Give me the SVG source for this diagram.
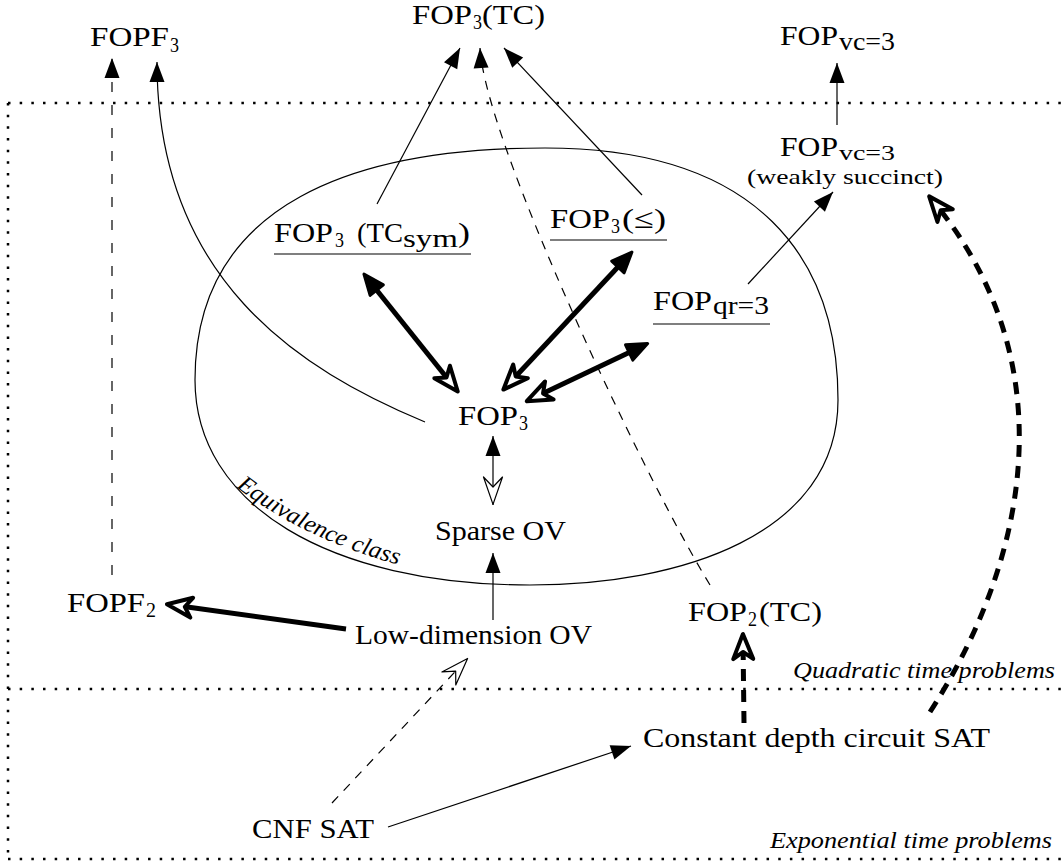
<svg xmlns="http://www.w3.org/2000/svg" width="1063" height="865" viewBox="0 0 1063 865">
<style>
.t{font-family:"Liberation Serif","Times New Roman",serif;font-size:28px;fill:#000}
.s{font-size:20px}
.ss{font-size:26px}
.it{font-family:"Liberation Serif","Times New Roman",serif;font-style:italic;font-size:24px;fill:#000}
.thin{stroke:#000;stroke-width:1.2;fill:none}
.thick{stroke:#000;stroke-width:5;fill:none}
.dash{stroke-dasharray:9 8}
.tdash{stroke-dasharray:12 9}
.dot{stroke:#000;stroke-width:2.5;stroke-dasharray:2.5 9.17;fill:none}
.ul{stroke:#000;stroke-width:1.2}
</style>
<defs>
<marker id="mf" markerUnits="userSpaceOnUse" orient="auto-start-reverse" refX="0" refY="0" markerWidth="40" markerHeight="40" overflow="visible">
<path d="M0,0 L-20,-7.5 L-20,7.5 Z" fill="#000"/>
</marker>
<marker id="mo" markerUnits="userSpaceOnUse" orient="auto-start-reverse" refX="0" refY="0" markerWidth="40" markerHeight="40" overflow="visible">
<path d="M-0.6,0 L-28,-9.5 L-18,0 L-28,9.5 Z" fill="#fff" stroke="#000" stroke-width="1.2" stroke-linejoin="round"/>
</marker>
<marker id="MF" markerUnits="userSpaceOnUse" orient="auto-start-reverse" refX="-8" refY="0" markerWidth="40" markerHeight="40" overflow="visible">
<path d="M-1.5,0 L-22,-8.5 L-22,8.5 Z" fill="#000" stroke="#000" stroke-width="3" stroke-linejoin="round"/>
</marker>
<marker id="MO" markerUnits="userSpaceOnUse" orient="auto-start-reverse" refX="-8" refY="0" markerWidth="40" markerHeight="40" overflow="visible">
<path d="M-2,0 L-27,-10 L-20,0 L-27,10 Z" fill="#fff" stroke="#000" stroke-width="4" stroke-linejoin="round"/>
</marker>
<path id="eqp" d="M236,487 Q305,540 403,566"/>
</defs>

<g id="frame">
<path class="dot" d="M8,103 H1070"/>
<path class="dot" d="M8,103 V859"/>
<path class="dot" d="M8,689 H1070"/>
<path class="dot" d="M8,859 H1070"/>
</g>

<g id="equivalence-class">
<path class="thin" d="M545,148 C760,148 838,260 838,400 C838,535 680,585 530,585 C330,585 195,505 195,380 C195,200 360,148 545,148 Z"/>
<text class="it"><textPath href="#eqp" textLength="181" lengthAdjust="spacingAndGlyphs">Equivalence class</textPath></text>
</g>

<g id="connectors">
<path class="thin" d="M112,575 L112,58" style="stroke-dasharray:10 13" marker-end="url(#mf)"/>
<path class="thin" d="M425,422 C300,370 157,280 157,62" marker-end="url(#mf)"/>
<path class="thin" d="M377,204 L460,48" marker-end="url(#mf)"/>
<path class="thin" d="M642,195 L504,48" marker-end="url(#mf)"/>
<path class="thin dash" d="M710,585 C640,470 485,140 480,48" marker-end="url(#mf)"/>
<path class="thin" d="M837,125 L837,63" marker-end="url(#mf)"/>
<path class="thin" d="M748,284 L833,192" marker-end="url(#mf)"/>
<path class="thick tdash" d="M930,712 C1038,544 1058.5,352.5 933,201" marker-end="url(#MO)"/>
<path class="thick tdash" d="M744,723 L743,640" marker-end="url(#MO)"/>
<path class="thick" d="M368,279.2 L454,386.8" marker-start="url(#MF)" marker-end="url(#MO)"/>
<path class="thick" d="M627.5,256.8 L507.5,385.2" marker-start="url(#MF)" marker-end="url(#MO)"/>
<path class="thick" d="M641.8,346.4 L532.2,398.6" marker-start="url(#MF)" marker-end="url(#MO)"/>
<path class="thin" d="M493,436 L493,505" marker-start="url(#mf)" marker-end="url(#mo)"/>
<path class="thin" d="M493,620 L493,553" marker-end="url(#mf)"/>
<path class="thick" d="M346,629 L172.9,605.1" marker-end="url(#MO)"/>
<path class="thin dash" d="M332,803 L468,658" marker-end="url(#mo)"/>
<path class="thin" d="M388,827 L631,746" marker-end="url(#mf)"/>
</g>

<g id="FOPF3"><text class="t"><tspan x="90" y="46" textLength="79" lengthAdjust="spacingAndGlyphs">FOPF</tspan><tspan class="s" x="170" y="52" textLength="9" lengthAdjust="spacingAndGlyphs">3</tspan></text></g>
<g id="FOP3TC"><text class="t"><tspan x="412" y="24" textLength="60" lengthAdjust="spacingAndGlyphs">FOP</tspan><tspan class="s" x="473" y="29" textLength="9" lengthAdjust="spacingAndGlyphs">3</tspan><tspan x="482" y="24" textLength="63" lengthAdjust="spacingAndGlyphs">(TC)</tspan></text></g>
<g id="FOPvc3"><text class="t"><tspan x="780" y="45" textLength="58" lengthAdjust="spacingAndGlyphs">FOP</tspan><tspan class="ss" x="839" y="50" textLength="56" lengthAdjust="spacingAndGlyphs">vc=3</tspan></text></g>
<g id="FOPvc3ws"><text class="t"><tspan x="780" y="156" textLength="58" lengthAdjust="spacingAndGlyphs">FOP</tspan><tspan x="839" y="160" style="font-size:20px" textLength="56" lengthAdjust="spacingAndGlyphs">vc=3</tspan></text>
<text class="t" style="font-size:22px" x="747" y="184" textLength="196" lengthAdjust="spacingAndGlyphs">(weakly succinct)</text></g>
<g id="FOP3TCsym"><text class="t"><tspan x="274" y="242" textLength="59" lengthAdjust="spacingAndGlyphs">FOP</tspan><tspan class="s" x="335" y="247" textLength="9" lengthAdjust="spacingAndGlyphs">3</tspan><tspan x="357" y="242" textLength="46" lengthAdjust="spacingAndGlyphs">(TC</tspan><tspan class="ss" x="403" y="247" textLength="55" lengthAdjust="spacingAndGlyphs">sym</tspan><tspan x="458" y="242" textLength="12" lengthAdjust="spacingAndGlyphs">)</tspan></text>
<line class="ul" x1="274" y1="254" x2="471" y2="254"/></g>
<g id="FOP3le"><text class="t"><tspan x="550" y="228" textLength="60" lengthAdjust="spacingAndGlyphs">FOP</tspan><tspan class="s" x="611" y="233" textLength="9" lengthAdjust="spacingAndGlyphs">3</tspan><tspan x="622" y="228" textLength="44" lengthAdjust="spacingAndGlyphs">(≤)</tspan></text>
<line class="ul" x1="550" y1="240" x2="667" y2="240"/></g>
<g id="FOPqr3"><text class="t"><tspan x="653" y="310" textLength="59" lengthAdjust="spacingAndGlyphs">FOP</tspan><tspan class="ss" x="713" y="314" textLength="56" lengthAdjust="spacingAndGlyphs">qr=3</tspan></text>
<line class="ul" x1="653" y1="324" x2="770" y2="324"/></g>
<g id="FOP3"><text class="t"><tspan x="458" y="425" textLength="60" lengthAdjust="spacingAndGlyphs">FOP</tspan><tspan class="s" x="519" y="430" textLength="9" lengthAdjust="spacingAndGlyphs">3</tspan></text></g>
<g id="SparseOV"><text class="t" x="435" y="540" textLength="131" lengthAdjust="spacingAndGlyphs">Sparse OV</text></g>
<g id="FOPF2"><text class="t"><tspan x="67" y="612" textLength="78" lengthAdjust="spacingAndGlyphs">FOPF</tspan><tspan class="s" x="146" y="617" textLength="10" lengthAdjust="spacingAndGlyphs">2</tspan></text></g>
<g id="LowDimOV"><text class="t" x="355" y="644" textLength="237" lengthAdjust="spacingAndGlyphs">Low-dimension OV</text></g>
<g id="FOP2TC"><text class="t"><tspan x="688" y="621" textLength="59" lengthAdjust="spacingAndGlyphs">FOP</tspan><tspan class="s" x="748" y="626" textLength="9" lengthAdjust="spacingAndGlyphs">2</tspan><tspan x="759" y="621" textLength="63" lengthAdjust="spacingAndGlyphs">(TC)</tspan></text></g>
<g id="ConstDepth"><text class="t" x="643" y="747" textLength="347" lengthAdjust="spacingAndGlyphs">Constant depth circuit SAT</text></g>
<g id="CNFSAT"><text class="t" x="252" y="838" textLength="122" lengthAdjust="spacingAndGlyphs">CNF SAT</text></g>
<g id="labels">
<text class="it" x="793" y="678" textLength="262" lengthAdjust="spacingAndGlyphs">Quadratic time problems</text>
<text class="it" x="770" y="848" textLength="282" lengthAdjust="spacingAndGlyphs">Exponential time problems</text>
</g>
</svg>
